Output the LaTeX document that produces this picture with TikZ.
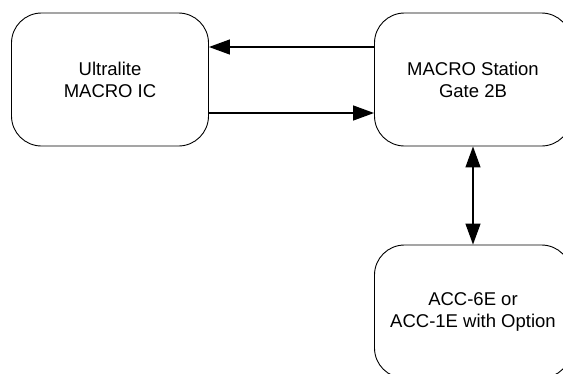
\documentclass[tikz,border=0pt]{standalone}
\usepackage{fontspec}
\setmainfont{Liberation Sans}
\usetikzlibrary{arrows.meta}
\begin{document}
\begin{tikzpicture}[x = 1pt, y = -1pt,
        unit/.style = {draw, line width = 0.9pt, rounded corners = 30pt, align = center,
            minimum width = 197pt, minimum height = 133pt, inner sep = 0pt,
            font = \fontsize{18.5}{22}\selectfont},
        link/.style = {line width = 1.3pt, {Triangle[length = 21pt, width = 15pt]}-{Triangle[length = 21pt, width = 15pt]}}]
            \useasboundingbox (0,0) rectangle (563,373);
            \node[unit] (ic) at (110,79.5) {Ultralite\\MACRO IC};
            \node[unit] (mst) at (473,79.5) {MACRO Station\\Gate 2B};
            \node[unit] (acc) at (473,311.5) {ACC-6E or\\ACC-1E with Option};
            \draw[link, -{Triangle[length = 21pt, width = 15pt]}] ([yshift = 32.5pt]mst.west) -- ([yshift = 32.5pt]ic.east);
            \draw[link, -{Triangle[length = 21pt, width = 15pt]}] ([yshift = -33.5pt]ic.east) -- ([yshift = -33.5pt]mst.west);
            \draw[link] (mst.south) -- (acc.north);
        \end{tikzpicture}
\end{document}
